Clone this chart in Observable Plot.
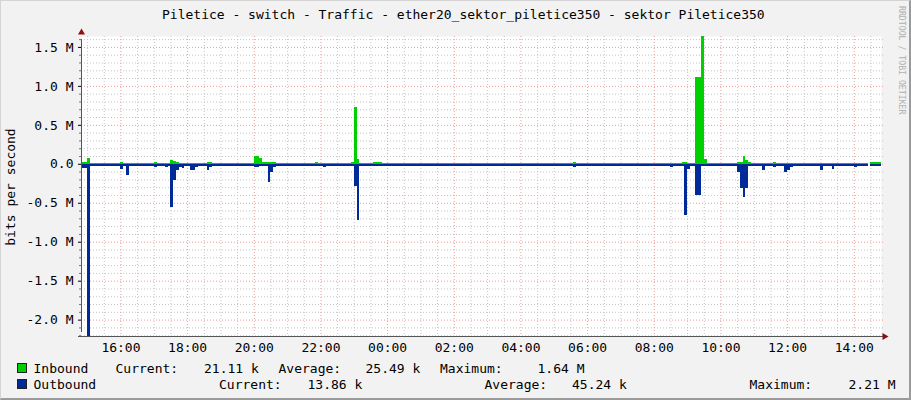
<!DOCTYPE html>
<html>
<head>
<meta charset="utf-8">
<script src="https://cdn.jsdelivr.net/npm/d3@7"></script>
<script src="https://cdn.jsdelivr.net/npm/@observablehq/plot@0.6"></script>
<style>
html,body{margin:0;padding:0;background:#f2f2f2;}
#wrap{position:relative;width:911px;height:400px;background:#f2f2f2;overflow:hidden;font-family:"DejaVu Sans Mono",monospace;font-size:13px;color:#000;}
#wrap svg{position:absolute;left:0;top:0;}
.t{position:absolute;white-space:pre;line-height:1;}
.sq{position:absolute;width:8px;height:8px;border:1px solid #222;}
#edge{position:absolute;left:0;top:0;width:911px;height:400px;box-sizing:border-box;border-top:1px solid #d4d4d4;border-left:1px solid #d4d4d4;border-right:2px solid #9a9a9a;border-bottom:2px solid #9a9a9a;pointer-events:none;}
</style>
</head>
<body>
<div id="wrap"></div>
<script>
// ---- data (kbit/s), each value holds from its time until the next time ----
const times = ["14:50","15:00","15:05","16:00","16:05","16:10","16:15","17:00","17:05","17:20","17:25","17:30","17:35","17:40","17:45","17:50","17:55","18:05","18:15","18:20","18:35","18:40","18:45","20:00","20:10","20:15","20:25","20:30","20:35","20:40","21:05","21:10","21:50","21:55","22:05","22:10","22:30","22:35","22:55","23:00","23:05","23:10","23:35","23:50","01:35","01:40","05:15","05:20","05:35","05:40","06:00","06:05","07:20","07:25","07:30","07:35","07:45","07:50","08:25","08:30","08:35","08:50","08:55","09:00","09:05","09:15","09:25","09:30","09:35","10:30","10:35","10:40","10:45","10:50","10:55","11:15","11:20","11:35","11:40","11:55","12:00","12:05","12:10","12:30","12:40","13:00","13:05","13:20","13:25","14:00","14:05","14:20","14:25","14:30","14:49"];
const inboundK = [20,75,8,20,8,15,8,25,8,10,8,50,30,20,15,15,10,15,10,8,20,20,8,94,77,20,20,20,20,8,15,8,25,8,8,8,15,8,20,730,64,8,17,8,15,8,15,8,25,8,15,8,15,8,8,8,15,8,15,15,8,20,25,15,8,1120,1640,64,8,25,25,100,55,20,8,15,8,25,15,15,15,15,8,15,8,8,8,8,8,15,8,15,null,21,null];
const outboundK = [50,2210,25,64,25,150,25,40,25,35,25,560,210,80,40,50,25,85,40,25,85,40,25,40,30,25,240,110,40,25,25,25,25,25,35,25,25,25,25,280,720,25,25,25,25,25,25,25,40,25,25,25,25,25,30,25,25,25,25,40,25,25,660,70,25,400,30,30,25,110,310,420,310,25,25,80,25,40,25,110,80,40,25,25,25,85,25,70,25,40,25,25,null,25,null];

const xTickLabels = ["16:00","18:00","20:00","22:00","00:00","02:00","04:00","06:00","08:00","10:00","12:00","14:00"];
const yMajorM = [-2.0,-1.5,-1.0,-0.5,0.0,0.5,1.0,1.5];
const yDomainM = [-2.21,1.64];
const timeDomain = ["14:49","14:49"];

const title = "Piletice - switch - Traffic - ether20_sektor_piletice350 - sektor Piletice350";
const seriesNames = ["Inbound","Outbound"];
const seriesColors = ["#00CF00","#002A97"];
const currentTxt = ["21.11 k","13.86 k"];
const averageTxt = ["25.49 k","45.24 k"];
const maximumTxt = ["1.64 M","2.21 M"];

// ---- parse times (day 1 then day 2 after midnight) ----
function parseSeq(arr, day0){
  let day = day0, prev = -1;
  return arr.map(s => {
    const [h,m] = s.split(":").map(Number);
    const mins = h*60+m;
    if (mins < prev) day++;
    prev = mins;
    return new Date(Date.UTC(2021,2,day,h,m));
  });
}
const dates = parseSeq(times, 10);
const t0 = parseSeq([timeDomain[0]],10)[0];
const t1 = parseSeq([timeDomain[1]],11)[0];
const xTicks = parseSeq(xTickLabels, 10);
const yMin = yDomainM[0]*1e6, yMax = yDomainM[1]*1e6;
const yMajor = yMajorM.map(v => v*1e6);
const yMinor = d3.range(-22,17).map(v => v*1e5).filter(v => Math.abs(v % 5e5) > 1);
const xMinor = d3.utcMinute.every(30).range(t0, t1).filter(d => d.getUTCMinutes() !== 0 || d.getUTCHours() % 2 !== 0);
const idx = d3.range(times.length - 1);

const fmtY = v => v === 0 ? "0.0" : (v/1e6).toFixed(1) + " M";
const minorC = "#c4c4c4", majorC = "#ee9a9a", dash = "1,2";

const chart = Plot.plot({
  width: 911, height: 400,
  marginLeft: 81, marginRight: 30, marginTop: 36, marginBottom: 64,
  style: {background: "transparent", fontFamily: "'DejaVu Sans Mono', monospace", fontSize: "13px", color: "#000", overflow: "visible"},
  x: {type: "utc", domain: [t0, t1], ticks: xTicks, tickFormat: d3.utcFormat("%H:%M"), tickSize: 0, tickPadding: 6, label: null},
  y: {domain: [yMin, yMax], ticks: yMajor, tickFormat: fmtY, tickSize: 3, tickPadding: 5, label: null},
  marks: [
    Plot.frame({fill: "white", stroke: "none"}),
    Plot.ruleY(yMinor, {x1: t0, x2: t1, insetRight: -3, stroke: minorC, strokeDasharray: dash}),
    Plot.ruleX(xMinor, {y1: yMin, y2: yMax, insetTop: -2, stroke: minorC, strokeDasharray: dash}),
    Plot.ruleY(yMajor, {x1: t0, x2: t1, insetRight: -3, stroke: majorC, strokeDasharray: dash}),
    Plot.ruleX(xTicks, {y1: yMin, y2: yMax, insetTop: -2, stroke: majorC, strokeDasharray: dash}),
    Plot.ruleY(yMinor, {x1: t0, x2: t0, insetLeft: -2, stroke: "#777"}),
    Plot.rect(idx, {filter: i => inboundK[i] != null, x1: i => dates[i], x2: i => dates[i+1], y1: 0, y2: i => inboundK[i]*1000, fill: seriesColors[0], shapeRendering: "crispEdges"}),
    Plot.rect(idx, {filter: i => outboundK[i] != null, x1: i => dates[i], x2: i => dates[i+1], y1: 0, y2: i => -outboundK[i]*1000, fill: seriesColors[1], shapeRendering: "crispEdges"}),
    Plot.ruleX([t0], {y1: yMin, y2: yMax, insetTop: -4, insetBottom: -3, stroke: "#555"}),
    Plot.ruleY([yMin], {x1: t0, x2: t1, insetLeft: -3, insetRight: -2, stroke: "#555"}),
    Plot.dot([yMax], {x: t0, y: d => d, dy: -4, symbol: "triangle", r: 2.6, fill: "#8b1010", stroke: "none"}),
    Plot.dot([yMin], {x: t1, y: d => d, dx: 3, rotate: 90, symbol: "triangle", r: 2.6, fill: "#8b1010", stroke: "none"})
  ]
});

const wrap = document.getElementById("wrap");
wrap.appendChild(chart);

function addText(txt, left, top, extra){
  const d = document.createElement("div");
  d.className = "t";
  d.textContent = txt;
  d.style.left = left + "px";
  d.style.top = top + "px";
  if (extra) Object.assign(d.style, extra);
  wrap.appendChild(d);
  return d;
}
addText(title, 162, 8);
addText("bits per second", 10, 187, {transform: "translate(-50%,-50%) rotate(-90deg)"});
addText("RRDTOOL / TOBI OETIKER", 898, 6, {writingMode: "vertical-rl", fontSize: "8.2px", color: "#b0b0b0"});

const rows = [
  {top: 362, pos: [34, 116, 204.5, 279, 366, 440.5, 538]},
  {top: 378, pos: [34, 219.5, 308, 485, 572.5, 750, 849]}
];
rows.forEach((r, k) => {
  const sq = document.createElement("div");
  sq.className = "sq";
  sq.style.left = "17px"; sq.style.top = (r.top + 1) + "px";
  sq.style.background = seriesColors[k];
  wrap.appendChild(sq);
  const parts = [seriesNames[k], "Current:", currentTxt[k], "Average:", averageTxt[k], "Maximum:", maximumTxt[k]];
  parts.forEach((p, j) => addText(p, r.pos[j] - 0.5, r.top));
});
const edge = document.createElement("div");
edge.id = "edge";
wrap.appendChild(edge);
</script>
</body>
</html>
